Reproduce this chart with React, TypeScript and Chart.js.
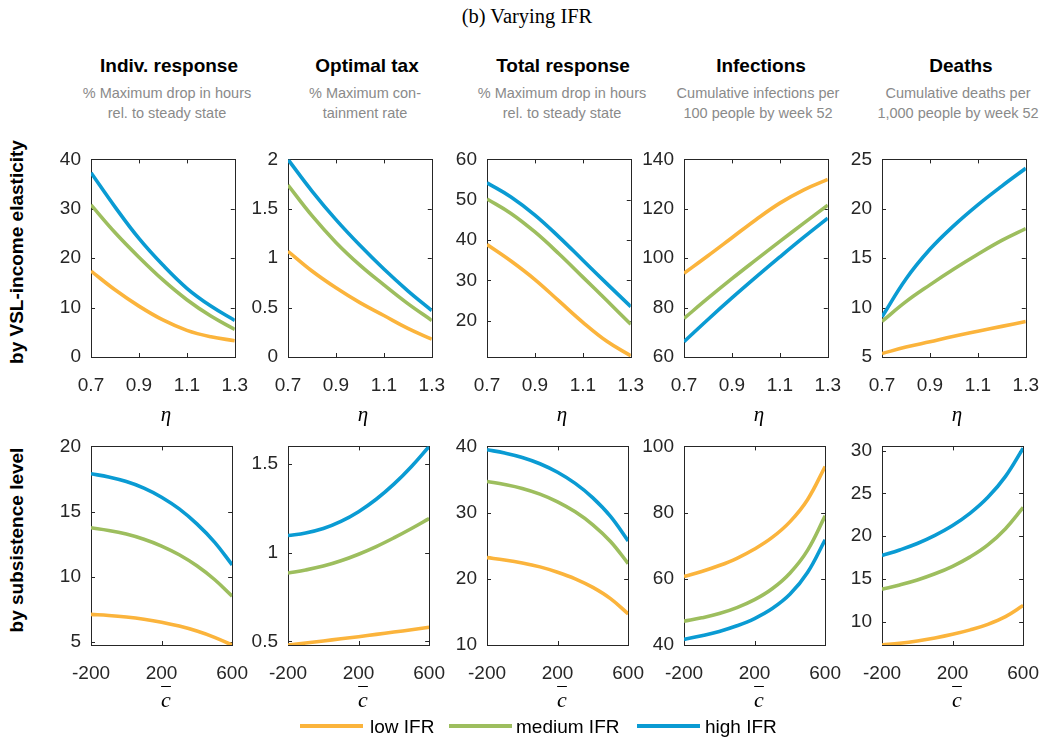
import React, { useEffect, useRef } from "react";
import { Chart, registerables } from "chart.js";

Chart.register(...registerables);

// ---------- data ----------
const seriesNames = ["low IFR", "medium IFR", "high IFR"];
const etaX = [0.7, 0.8, 0.9, 1.0, 1.1, 1.2, 1.3];
const cbarX = [-200, -100, 0, 100, 200, 300, 400, 500, 600];
const etaTicks = [0.7, 0.9, 1.1, 1.3];
const cbarTicks = [-200, 200, 600];

const columnTitles = ["Indiv. response", "Optimal tax", "Total response", "Infections", "Deaths"];
const columnSubtitles = [
  ["% Maximum drop in hours", "rel. to steady state"],
  ["% Maximum con-", "tainment rate"],
  ["% Maximum drop in hours", "rel. to steady state"],
  ["Cumulative infections per", "100 people by week 52"],
  ["Cumulative deaths per", "1,000 people by week 52"],
];
const rowLabels = ["by VSL-income elasticity", "by subsistence level"];

// top row: by eta
const indivEtaLow = [17.4, 13.6, 10.3, 7.5, 5.4, 4.1, 3.3];
const indivEtaMed = [30.8, 25.2, 20.2, 15.6, 11.6, 8.3, 5.6];
const indivEtaHigh = [37.3, 30.4, 24.0, 18.6, 13.9, 10.3, 7.4];
const indivEtaTicks = [0, 10, 20, 30, 40];

const taxEtaLow = [1.07, 0.87, 0.7, 0.55, 0.42, 0.29, 0.18];
const taxEtaMed = [1.74, 1.43, 1.16, 0.93, 0.73, 0.54, 0.37];
const taxEtaHigh = [2.0, 1.68, 1.39, 1.13, 0.89, 0.67, 0.47];
const taxEtaTicks = [0, 0.5, 1, 1.5, 2];

const totalEtaLow = [38.9, 34.8, 30.2, 24.9, 19.6, 14.9, 11.3];
const totalEtaMed = [50.2, 46.6, 42.0, 36.6, 30.8, 25.0, 19.1];
const totalEtaHigh = [54.2, 50.7, 46.2, 40.8, 35.0, 29.2, 23.5];
const totalEtaTicks = [20, 30, 40, 50, 60];

const infEtaLow = [93.9, 101.0, 108.3, 115.6, 122.3, 127.7, 131.9];
const infEtaMed = [75.6, 83.8, 91.7, 99.3, 106.8, 114.2, 121.5];
const infEtaHigh = [66.2, 75.2, 83.9, 92.3, 100.5, 108.5, 116.2];
const infEtaTicks = [60, 80, 100, 120, 140];

const deathEtaLow = [5.35, 6.0, 6.55, 7.1, 7.6, 8.1, 8.6];
const deathEtaMed = [8.6, 10.6, 12.3, 13.9, 15.4, 16.8, 18.0];
const deathEtaHigh = [9.06, 12.9, 15.9, 18.3, 20.4, 22.3, 24.1];
const deathEtaTicks = [5, 10, 15, 20, 25];

// bottom row: by subsistence level
const indivCLow = [7.1, 7.02, 6.9, 6.73, 6.5, 6.2, 5.82, 5.34, 4.75];
const indivCMed = [13.75, 13.55, 13.27, 12.87, 12.35, 11.68, 10.83, 9.78, 8.5];
const indivCHigh = [17.9, 17.65, 17.3, 16.8, 16.1, 15.2, 14.05, 12.65, 10.9];
const indivCTicks = [5, 10, 15, 20];

const taxCLow = [0.48, 0.491, 0.503, 0.515, 0.527, 0.54, 0.553, 0.566, 0.58];
const taxCMed = [0.886, 0.903, 0.925, 0.955, 0.992, 1.035, 1.084, 1.137, 1.193];
const taxCHigh = [1.097, 1.112, 1.137, 1.177, 1.232, 1.302, 1.387, 1.487, 1.6];
const taxCTicks = [0.5, 1, 1.5];

const totalCLow = [23.2, 22.85, 22.4, 21.8, 21.0, 20.0, 18.7, 17.0, 14.7];
const totalCMed = [34.7, 34.25, 33.65, 32.79, 31.63, 30.12, 28.16, 25.64, 22.31];
const totalCHigh = [39.5, 39.0, 38.33, 37.38, 36.09, 34.41, 32.23, 29.43, 25.73];
const totalCTicks = [10, 20, 30, 40];

const infCLow = [60.7, 62.2, 64.0, 66.2, 69.0, 72.5, 77.2, 83.9, 93.9];
const infCMed = [47.2, 48.2, 49.5, 51.3, 53.7, 57.0, 61.7, 68.6, 79.0];
const infCHigh = [41.7, 42.8, 44.1, 45.8, 48.0, 51.0, 55.3, 61.9, 71.8];
const infCTicks = [40, 60, 80, 100];

const deathCLow = [7.27, 7.47, 7.74, 8.09, 8.52, 9.04, 9.69, 10.59, 11.89];
const deathCMed = [13.8, 14.3, 14.88, 15.6, 16.48, 17.58, 18.98, 20.88, 23.35];
const deathCHigh = [17.74, 18.39, 19.14, 20.09, 21.24, 22.69, 24.54, 26.99, 30.29];
const deathCTicks = [10, 15, 20, 25, 30];

// ---------- styling / layout ----------
const COLORS = ["#FBB43C", "#9DBE5E", "#0A9BD3"];
const TICK_COLOR = "#262626";
const SANS = "'Liberation Sans', Arial, Helvetica, sans-serif";
const SERIF = "'Liberation Serif', 'Times New Roman', serif";

const PLOT_LEFTS = [91, 288, 487, 684, 882];
const PLOT_W = 150;
const ROW_TOPS = [150, 437];
const ROW_H = [207, 208];
const YW = 60; // y-axis width
const PT = 12; // top padding
const PR = 24; // right padding
const XH = 48; // x-axis height

type PanelSpec = {
  xs: number[];
  xTicks: number[];
  xMin: number;
  xMax: number;
  yMin: number;
  yMax: number;
  yTicks: number[];
  series: number[][];
};

const topPanels: PanelSpec[] = [
  { xs: etaX, xTicks: etaTicks, xMin: 0.7, xMax: 1.3, yMin: 0, yMax: 40, yTicks: indivEtaTicks, series: [indivEtaLow, indivEtaMed, indivEtaHigh] },
  { xs: etaX, xTicks: etaTicks, xMin: 0.7, xMax: 1.3, yMin: 0, yMax: 2, yTicks: taxEtaTicks, series: [taxEtaLow, taxEtaMed, taxEtaHigh] },
  { xs: etaX, xTicks: etaTicks, xMin: 0.7, xMax: 1.3, yMin: 11, yMax: 60, yTicks: totalEtaTicks, series: [totalEtaLow, totalEtaMed, totalEtaHigh] },
  { xs: etaX, xTicks: etaTicks, xMin: 0.7, xMax: 1.3, yMin: 60, yMax: 140, yTicks: infEtaTicks, series: [infEtaLow, infEtaMed, infEtaHigh] },
  { xs: etaX, xTicks: etaTicks, xMin: 0.7, xMax: 1.3, yMin: 5, yMax: 25, yTicks: deathEtaTicks, series: [deathEtaLow, deathEtaMed, deathEtaHigh] },
];
const bottomPanels: PanelSpec[] = [
  { xs: cbarX, xTicks: cbarTicks, xMin: -200, xMax: 600, yMin: 4.75, yMax: 20, yTicks: indivCTicks, series: [indivCLow, indivCMed, indivCHigh] },
  { xs: cbarX, xTicks: cbarTicks, xMin: -200, xMax: 600, yMin: 0.48, yMax: 1.6, yTicks: taxCTicks, series: [taxCLow, taxCMed, taxCHigh] },
  { xs: cbarX, xTicks: cbarTicks, xMin: -200, xMax: 600, yMin: 10, yMax: 40, yTicks: totalCTicks, series: [totalCLow, totalCMed, totalCHigh] },
  { xs: cbarX, xTicks: cbarTicks, xMin: -200, xMax: 600, yMin: 40, yMax: 100, yTicks: infCTicks, series: [infCLow, infCMed, infCHigh] },
  { xs: cbarX, xTicks: cbarTicks, xMin: -200, xMax: 600, yMin: 7.27, yMax: 30.5, yTicks: deathCTicks, series: [deathCLow, deathCMed, deathCHigh] },
];

const boxPlugin = {
  id: "matlabBox",
  beforeDatasetsDraw(chart: any) {
    const { ctx, chartArea: a, scales } = chart;
    const L = 4;
    ctx.save();
    ctx.strokeStyle = TICK_COLOR;
    ctx.lineWidth = 1;
    ctx.beginPath();
    for (const t of scales.x.ticks) {
      const px = Math.round(scales.x.getPixelForValue(t.value)) + 0.5;
      ctx.moveTo(px, a.bottom);
      ctx.lineTo(px, a.bottom - L);
      ctx.moveTo(px, a.top);
      ctx.lineTo(px, a.top + L);
    }
    for (const t of scales.y.ticks) {
      const py = Math.round(scales.y.getPixelForValue(t.value)) + 0.5;
      ctx.moveTo(a.left, py);
      ctx.lineTo(a.left + L, py);
      ctx.moveTo(a.right, py);
      ctx.lineTo(a.right - L, py);
    }
    ctx.stroke();
    ctx.strokeRect(Math.round(a.left) + 0.5, Math.round(a.top) + 0.5, Math.round(a.right - a.left), Math.round(a.bottom - a.top));
    ctx.restore();
  },
};

function Panel({ spec, left, top, height }: { spec: PanelSpec; left: number; top: number; height: number }) {
  const ref = useRef<HTMLCanvasElement>(null);
  const cw = YW + PLOT_W + PR;
  const ch = PT + height + XH;
  useEffect(() => {
    const tickFont = { family: SANS, size: 19 };
    const chart = new Chart(ref.current as HTMLCanvasElement, {
      type: "line",
      data: {
        datasets: spec.series.map((s, i) => ({
          label: seriesNames[i],
          data: spec.xs.map((x, j) => ({ x, y: s[j] })),
          borderColor: COLORS[i],
          backgroundColor: COLORS[i],
          borderWidth: 3.6,
          pointRadius: 0,
          fill: false,
          tension: 0.4,
          borderCapStyle: "butt",
          order: 2 - i,
        })),
      },
      options: {
        animation: false,
        responsive: false,
        events: [],
        layout: { padding: { left: 0, top: PT, right: PR, bottom: 0 } },
        plugins: { legend: { display: false }, tooltip: { enabled: false }, title: { display: false } },
        scales: {
          x: {
            type: "linear",
            min: spec.xMin,
            max: spec.xMax,
            grid: { display: false, drawTicks: false },
            border: { display: false },
            afterBuildTicks: (s: any) => {
              s.ticks = spec.xTicks.map((v) => ({ value: v }));
            },
            afterFit: (s: any) => {
              s.height = XH;
            },
            ticks: { padding: 17, font: tickFont, color: TICK_COLOR, maxRotation: 0, autoSkip: false, callback: (v: any) => String(v) },
          },
          y: {
            type: "linear",
            min: spec.yMin,
            max: spec.yMax,
            grid: { display: false, drawTicks: false },
            border: { display: false },
            afterBuildTicks: (s: any) => {
              s.ticks = spec.yTicks.map((v) => ({ value: v }));
            },
            afterFit: (s: any) => {
              s.width = YW;
            },
            ticks: { padding: 10, font: tickFont, color: TICK_COLOR, autoSkip: false, callback: (v: any) => String(v) },
          },
        },
      } as any,
      plugins: [boxPlugin],
    });
    return () => chart.destroy();
  }, []);
  return (
    <canvas
      ref={ref}
      width={cw}
      height={ch}
      style={{ position: "absolute", left: left - YW, top: top - PT, width: cw, height: ch }}
    />
  );
}

function Txt({ x, y, children, style }: { x: number; y: number; children: any; style?: any }) {
  return (
    <div
      style={{
        position: "absolute",
        left: x,
        top: y,
        transform: "translate(-50%, -50%)",
        whiteSpace: "nowrap",
        lineHeight: 1,
        ...style,
      }}
    >
      {children}
    </div>
  );
}

const TITLE_X = [169, 367, 563, 761, 961];
const SUB_X = [167, 365, 562, 758, 958];

export default function App() {
  const legendItems = [
    { lx: 300, tx: 370 },
    { lx: 449, tx: 516 },
    { lx: 637, tx: 705 },
  ];
  return (
    <div style={{ position: "absolute", left: 0, top: 0, width: 1052, height: 739, background: "#fff", overflow: "hidden" }}>
      <Txt x={527} y={16} style={{ fontFamily: SERIF, fontSize: 20.5, color: "#000" }}>(b) Varying IFR</Txt>
      {columnTitles.map((t, i) => (
        <Txt key={"t" + i} x={TITLE_X[i]} y={65} style={{ fontFamily: SANS, fontSize: 19, fontWeight: "bold", color: "#000" }}>
          {t}
        </Txt>
      ))}
      {columnSubtitles.map((lines, i) =>
        lines.map((l, k) => (
          <Txt key={"s" + i + "-" + k} x={SUB_X[i]} y={93 + k * 20} style={{ fontFamily: SANS, fontSize: 14.5, color: "#8a8a8a" }}>
            {l}
          </Txt>
        ))
      )}
      {rowLabels.map((r, i) => (
        <div
          key={"r" + i}
          style={{
            position: "absolute",
            left: 16,
            top: i === 0 ? 252 : 540,
            transform: "translate(-50%, -50%) rotate(-90deg)",
            whiteSpace: "nowrap",
            lineHeight: 1,
            fontFamily: SANS,
            fontSize: 19,
            fontWeight: "bold",
            color: "#000",
          }}
        >
          {r}
        </div>
      ))}
      {topPanels.map((p, i) => (
        <Panel key={"p0" + i} spec={p} left={PLOT_LEFTS[i]} top={ROW_TOPS[0]} height={ROW_H[0]} />
      ))}
      {bottomPanels.map((p, i) => (
        <Panel key={"p1" + i} spec={p} left={PLOT_LEFTS[i]} top={ROW_TOPS[1]} height={ROW_H[1]} />
      ))}
      {PLOT_LEFTS.map((l, i) => (
        <Txt key={"eta" + i} x={l + PLOT_W / 2} y={414} style={{ fontFamily: SERIF, fontStyle: "italic", fontSize: 21, color: "#000" }}>
          η
        </Txt>
      ))}
      {PLOT_LEFTS.map((l, i) => (
        <Txt key={"cb" + i} x={l + PLOT_W / 2} y={700} style={{ fontFamily: SERIF, fontStyle: "italic", fontSize: 22, color: "#000" }}>
          <span style={{ textDecoration: "overline", textDecorationThickness: "1px" }}>c</span>
        </Txt>
      ))}
      {legendItems.map((it, i) => (
        <React.Fragment key={"lg" + i}>
          <div style={{ position: "absolute", left: it.lx, top: 724, width: 63, height: 4, background: COLORS[i] }} />
          <div
            style={{
              position: "absolute",
              left: it.tx,
              top: 726,
              transform: "translateY(-50%)",
              lineHeight: 1,
              whiteSpace: "nowrap",
              fontFamily: SANS,
              fontSize: 19,
              color: "#000",
            }}
          >
            {seriesNames[i]}
          </div>
        </React.Fragment>
      ))}
    </div>
  );
}
